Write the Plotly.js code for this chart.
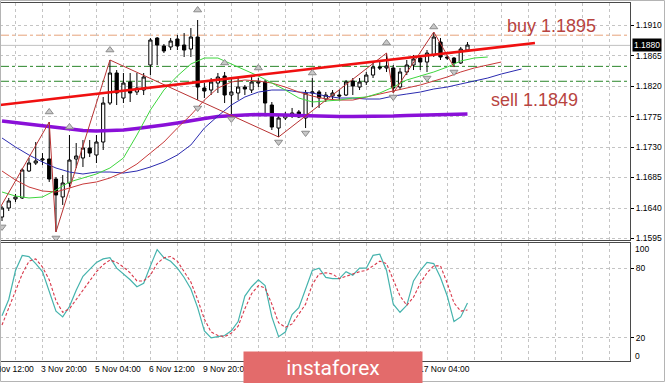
<!DOCTYPE html>
<html>
<head>
<meta charset="utf-8">
<script src="https://cdn.plot.ly/plotly-3.0.1.min.js"></script>
<style>html,body{margin:0;padding:0;background:#fff;}#chart{width:665px;height:383px;}</style>
</head>
<body>
<div id="chart"></div>
<script>
// ---- Candles (H4 EURUSD), bar index 0 = 2 Nov 20:00 ----
const opens  = [1.16267,1.16400,1.16533,1.16548,1.16946,1.17064,1.17108,1.17123,1.16828,1.16563,
                1.16769,1.17123,1.17138,1.17285,1.17182,1.17374,1.17949,1.18392,1.18023,1.18259,
                1.18112,1.18141,1.18510,1.18908,1.18790,1.18776,1.18894,1.18805,1.18746,1.18923,
                1.18171,1.18141,1.18244,1.18348,1.18067,1.18097,1.18185,1.18141,1.18244,1.18259,
                1.17920,1.17580,1.17728,1.17757,1.17817,1.17728,1.18097,1.18112,1.18008,1.18053,
                1.18067,1.18067,1.18274,1.18185,1.18259,1.18362,1.18480,1.18466,1.18466,1.18185,
                1.18407,1.18510,1.18613,1.18554,1.18658,1.18849,1.18628,1.18613,1.18540,1.18731];
const highs  = [1.16430,1.16548,1.16607,1.16991,1.17138,1.17374,1.17211,1.17669,1.16858,1.16887,
                1.17477,1.17359,1.17403,1.17403,1.17477,1.18038,1.18584,1.18436,1.18392,1.18392,
                1.18392,1.18392,1.18908,1.18923,1.18820,1.18908,1.18953,1.18982,1.19056,1.19174,
                1.18244,1.18318,1.18392,1.18407,1.18333,1.18333,1.18215,1.18333,1.18318,1.18289,
                1.17964,1.17772,1.17817,1.17876,1.17846,1.18141,1.18318,1.18141,1.18112,1.18141,
                1.18141,1.18289,1.18318,1.18318,1.18407,1.18554,1.18554,1.18687,1.18510,1.18466,
                1.18584,1.18658,1.18658,1.18731,1.18997,1.18908,1.18658,1.18628,1.18776,1.18849];
const lows   = [1.16208,1.16356,1.16489,1.16533,1.16932,1.17035,1.17035,1.16784,1.16047,1.16445,
                1.16710,1.16991,1.17005,1.17152,1.17064,1.17256,1.17920,1.17920,1.17949,1.17964,
                1.18067,1.18067,1.18362,1.18510,1.18687,1.18731,1.18731,1.18628,1.18628,1.17994,
                1.18023,1.18067,1.18097,1.17949,1.17743,1.17994,1.18067,1.18097,1.18185,1.17802,
                1.17551,1.17448,1.17698,1.17728,1.17728,1.17580,1.17890,1.17876,1.17964,1.17994,
                1.17994,1.18053,1.18067,1.18141,1.18215,1.18318,1.18436,1.18407,1.18097,1.18141,
                1.18362,1.18436,1.18436,1.18407,1.18628,1.18584,1.18584,1.18480,1.18525,1.18702];
const closes = [1.16400,1.16504,1.16563,1.16961,1.17064,1.17094,1.17123,1.16828,1.16592,1.16769,
                1.17108,1.17167,1.17285,1.17211,1.17374,1.17949,1.18392,1.18097,1.18244,1.18097,
                1.18171,1.18333,1.18879,1.18805,1.18717,1.18864,1.18790,1.18731,1.18923,1.18185,
                1.18126,1.18259,1.18333,1.18067,1.18112,1.18185,1.18156,1.18259,1.18259,1.17949,
                1.17595,1.17728,1.17772,1.17802,1.17743,1.18097,1.18112,1.18023,1.18067,1.18097,
                1.18053,1.18259,1.18200,1.18259,1.18362,1.18480,1.18466,1.18495,1.18171,1.18407,
                1.18510,1.18599,1.18554,1.18687,1.18923,1.18628,1.18613,1.18540,1.18746,1.18805];

// ---- Alligator (jaw / teeth / lips, drawn with their forward shift) ----
const jawX  = [0,2,4,6,8,10,12,14,16,18,20,22,24,26,28,30,32,34,36,38,40,42,44,46,48,50,52,54,56,58,60,62,64,66,68,70,72,74,76,77];
const jawY  = [1.17433,1.17300,1.17182,1.17079,1.16990,1.16931,1.16902,1.16931,1.16931,1.16916,
               1.16946,1.17005,1.17079,1.17182,1.17330,1.17580,1.17757,1.17920,1.18038,1.18111,
               1.18141,1.18141,1.18111,1.18097,1.18052,1.18023,1.18023,1.18008,1.18008,1.18052,
               1.18082,1.18111,1.18156,1.18185,1.18230,1.18274,1.18318,1.18377,1.18421,1.18451];
const teethX = [0,2,4,6,8,10,12,14,16,18,20,22,24,26,28,30,32,34,36,38,40,42,44,46,48,50,52,54,56,58,60,62,64,66,68,70,72,74];
const teethY = [1.16946,1.16813,1.16710,1.16651,1.16636,1.16695,1.16754,1.16784,1.16843,1.16931,
                1.17049,1.17212,1.17374,1.17580,1.17772,1.17993,1.18170,1.18259,1.18289,1.18274,
                1.18244,1.18185,1.18111,1.18052,1.18008,1.17993,1.17993,1.18038,1.18082,1.18126,
                1.18170,1.18215,1.18274,1.18333,1.18407,1.18466,1.18510,1.18554];
const lipsX = [0,2,4,6,8,10,12,14,16,18,20,22,24,26,28,30,32,34,36,38,40,42,44,46,48,50,52,54,56,58,60,62,64,66,68,70,72];
const lipsY = [1.16636,1.16577,1.16548,1.16562,1.16666,1.16784,1.16843,1.16902,1.16990,1.17138,
               1.17477,1.17846,1.18141,1.18348,1.18525,1.18613,1.18613,1.18525,1.18436,1.18348,
               1.18244,1.18141,1.18023,1.17964,1.17979,1.17993,1.18023,1.18038,1.18097,1.18185,
               1.18289,1.18348,1.18407,1.18480,1.18569,1.18613,1.18628];

// ---- Slow moving average (thick violet) ----
const maX = [0,2,4,6,8,10,12,14,16,18,20,22,24,26,28,30,32,34,36,38,40,42,44,46,48,50,52,54,56,58,60,62,64,66,68,69];
const maY = [1.17684,1.17661,1.17639,1.17617,1.17595,1.17566,1.17543,1.17536,1.17543,1.17551,
             1.17573,1.17595,1.17625,1.17654,1.17691,1.17720,1.17750,1.17765,1.17772,1.17780,
             1.17780,1.17772,1.17765,1.17757,1.17750,1.17750,1.17750,1.17750,1.17757,1.17757,
             1.17765,1.17772,1.17772,1.17780,1.17787,1.17787];

// ---- ZigZag vertices ----
const zzX = [-1,7,8,16,41,57,58,64,67];
const zzY = [1.16280,1.17669,1.16047,1.18584,1.17448,1.18687,1.18097,1.18997,1.18480];

// ---- Fractals ----
const fUpX = [7,10,16,29,33,38,46,57,64];
const fUpY = [1.17817,1.17595,1.18731,1.19321,1.18540,1.18466,1.18392,1.18835,1.19071];
const fDnX = [0,8,29,34,41,45,58,63,67];
const fDnY = [1.16121,1.15958,1.17876,1.17714,1.17374,1.17507,1.18038,1.18318,1.18407];

// ---- Trend line & levels ----
const trendX = [-0.3, 79];
const trendY = [1.17920, 1.18835];
const buyLevel = 1.1895, sellLevel = 1.1849, lowerLevel = 1.1827, lastPrice = 1.1880;
const buyText = 'buy 1.1895', sellText = 'sell 1.1849';

// ---- Stochastic ----
const stochK = [39,53,78,91,90,84,77,59,43,38,47,61,73,79,85,88,89,80,75,70,
                64,67,82,96,89,86,80,72,62,46,26,20,21,22,26,34,56,64,70,65,
                38,21,25,40,46,63,78,80,72,71,71,77,74,80,80,91,92,78,49,42,
                48,69,78,85,84,72,56,34,38,50];
const stochD = [31,46,60,75,86,88,81,70,52,42,45,53,61,70,77,83,87,85,81,76,
                69,69,74,84,89,90,86,77,68,53,36,25,22,21,24,30,45,58,65,63,
                49,33,29,32,40,49,66,75,76,75,71,73,75,77,78,82,86,84,70,56,
                48,55,67,76,82,82,67,50,43,44];

// ---- Axis labels (those hidden under the watermark in the reference are left out) ----
const yTicks = [1.1595,1.1640,1.1685,1.1730,1.1775,1.1820,1.1865,1.1910];
const timeIdx = [-2,6,14,22,30,62];
const timeLbl = ['2 Nov 12:00','3 Nov 20:00','5 Nov 04:00','6 Nov 12:00','9 Nov 20:00','17 Nov 04:00'];

const bars = opens.map((_, i) => i);
const XR = [-0.296, 93.09];
const YR = [1.15928, 1.19425];
const gridC = '#c4c4c4';
const font = 'Liberation Sans, Arial, sans-serif';

const traces = [
  {type:'candlestick', x:bars, open:opens, high:highs, low:lows, close:closes, xaxis:'x', yaxis:'y',
   increasing:{line:{color:'#000',width:1}, fillcolor:'#fff'},
   decreasing:{line:{color:'#000',width:1}, fillcolor:'#000'},
   whiskerwidth:0, hoverinfo:'skip'},
  {type:'scatter', mode:'lines', x:maX, y:maY, line:{color:'#8a10d8', width:3.5}, xaxis:'x', yaxis:'y', hoverinfo:'skip'},
  {type:'scatter', mode:'lines', x:jawX, y:jawY, line:{color:'#2b2bb0', width:1}, xaxis:'x', yaxis:'y', hoverinfo:'skip'},
  {type:'scatter', mode:'lines', x:teethX, y:teethY, line:{color:'#c83a3a', width:1}, xaxis:'x', yaxis:'y', hoverinfo:'skip'},
  {type:'scatter', mode:'lines', x:lipsX, y:lipsY, line:{color:'#3ed63e', width:1}, xaxis:'x', yaxis:'y', hoverinfo:'skip'},
  {type:'scatter', mode:'lines', x:zzX, y:zzY, line:{color:'#b83232', width:1}, xaxis:'x', yaxis:'y', hoverinfo:'skip'},
  {type:'scatter', mode:'lines', x:trendX, y:trendY, line:{color:'#f01010', width:2.6}, xaxis:'x', yaxis:'y', hoverinfo:'skip'},
  {type:'scatter', mode:'markers', x:fUpX, y:fUpY, marker:{symbol:'triangle-up', size:7, color:'#c8c8c8', line:{color:'#8c8c8c', width:1}}, xaxis:'x', yaxis:'y', hoverinfo:'skip'},
  {type:'scatter', mode:'markers', x:fDnX, y:fDnY, marker:{symbol:'triangle-down', size:7, color:'#c8c8c8', line:{color:'#8c8c8c', width:1}}, xaxis:'x', yaxis:'y', hoverinfo:'skip'},
  {type:'scatter', mode:'lines', x:bars, y:stochK, line:{color:'#45b3ad', width:1.2}, xaxis:'x2', yaxis:'y2', hoverinfo:'skip'},
  {type:'scatter', mode:'lines', x:bars, y:stochD, line:{color:'#d8384a', width:1.1, dash:'3px,2px'}, xaxis:'x2', yaxis:'y2', hoverinfo:'skip'}
];

const shapes = [
  {type:'line', xref:'paper', x0:0, x1:1, yref:'y', y0:lastPrice, y1:lastPrice, line:{color:'#c0c0c0', width:1}, layer:'between'},
  {type:'line', xref:'paper', x0:0, x1:1, yref:'y', y0:buyLevel, y1:buyLevel, line:{color:'#e6a27a', width:1, dash:'dashdot'}, layer:'between'},
  {type:'line', xref:'paper', x0:0, x1:1, yref:'y', y0:sellLevel, y1:sellLevel, line:{color:'#2a862a', width:1, dash:'dashdot'}, layer:'between'},
  {type:'line', xref:'paper', x0:0, x1:1, yref:'y', y0:lowerLevel, y1:lowerLevel, line:{color:'#2a862a', width:1, dash:'dashdot'}, layer:'between'},
  {type:'rect', xref:'paper', yref:'paper', x0:0.0008, x1:664.5/630, y0:(361-381.5)/358, y1:(361-0.5)/358, line:{color:'#b4b4b4', width:1}, fillcolor:'rgba(0,0,0,0)', layer:'above'}
];

const annotations = [
  {xref:'x', yref:'y', x:74.6, y:1.19085, text:buyText, showarrow:false, xanchor:'left', yanchor:'middle', font:{family:font, size:18, color:'#b8443f'}},
  {xref:'x', yref:'y', x:72.2, y:1.17993, text:sellText, showarrow:false, xanchor:'left', yanchor:'middle', font:{family:font, size:18, color:'#b8443f'}},
  {xref:'paper', yref:'y', x:1, y:lastPrice, text:lastPrice.toFixed(4), showarrow:false, xanchor:'left', yanchor:'middle', xshift:2, bgcolor:'#000', borderpad:1, font:{family:font, size:8.5, color:'#fff'}},
  {xref:'paper', yref:'y2', x:1, y:100, text:'100', showarrow:false, xanchor:'left', yanchor:'middle', xshift:3, yshift:-4, font:{family:font, size:8.5, color:'#000'}},
  {xref:'paper', yref:'y2', x:1, y:0, text:'0', showarrow:false, xanchor:'left', yanchor:'middle', xshift:3, yshift:5, font:{family:font, size:8.5, color:'#000'}}
];
timeIdx.forEach((ix, k) => {
  annotations.push({xref:'paper', yref:'paper', x:(ix - XR[0])/(XR[1]-XR[0]), y:(361-369)/358, text:timeLbl[k],
    showarrow:false, xanchor:'left', yanchor:'middle', xshift:-3, font:{family:font, size:8.5, color:'#000'}});
});
// watermark box (drawn last so it sits on top)
annotations.push({xref:'paper', yref:'paper', x:333/630, y:(361-367.5)/358, text:'instaforex', showarrow:false,
  xanchor:'center', yanchor:'middle', width:178, height:31, borderpad:0, bgcolor:'#e36b6b',
  font:{family:'Roboto, sans-serif', size:21, color:'#ffffff'}});

const axCommon = {showgrid:true, gridcolor:gridC, griddash:'3px,3px', gridwidth:1, zeroline:false,
                  showline:true, linecolor:'#4a4a4a', linewidth:1};
const layout = {
  width:665, height:383, margin:{l:0, r:35, t:3, b:22},
  paper_bgcolor:'#fff', plot_bgcolor:'#fff', showlegend:false, hovermode:false,
  boxgap:0.32,
  xaxis: Object.assign({}, axCommon, {domain:[0,1], anchor:'y', range:XR, tickmode:'linear', tick0:2, dtick:4,
          showticklabels:false, ticks:'', mirror:true, rangeslider:{visible:false}}),
  yaxis: Object.assign({}, axCommon, {domain:[0.338,1], anchor:'x', side:'right', range:YR, tickmode:'array',
          tickvals:yTicks, ticktext:yTicks.map(v => v.toFixed(4)), ticks:'outside', ticklen:3, tickcolor:'#000',
          tickfont:{family:font, size:8.5, color:'#000'}}),
  xaxis2: Object.assign({}, axCommon, {domain:[0,1], anchor:'y2', range:XR, tickmode:'linear', tick0:2, dtick:4,
          showticklabels:false, ticks:'', mirror:true}),
  yaxis2: Object.assign({}, axCommon, {domain:[0,0.3296], anchor:'x2', side:'right', range:[0,101.7], tickmode:'array',
          tickvals:[20,80], ticktext:['20','80'], ticks:'outside', ticklen:3, tickcolor:'#000',
          tickfont:{family:font, size:8.5, color:'#000'}}),
  shapes:shapes, annotations:annotations
};
Plotly.newPlot('chart', traces, layout, {staticPlot:true, displayModeBar:false});
</script>
</body>
</html>
